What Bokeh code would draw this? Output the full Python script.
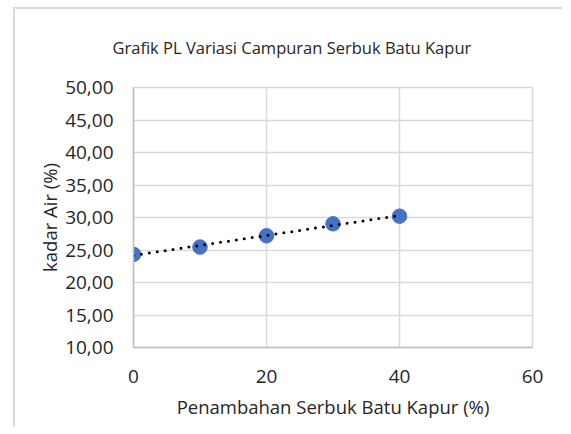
import numpy as np
from bokeh.plotting import figure
from bokeh.models import Range1d, FixedTicker
from bokeh.embed import file_html
from bokeh.resources import INLINE

# ---- data ----
x_values = [0, 10, 20, 30, 40]
kadar_air = [24.32, 25.45, 27.19, 29.03, 30.20]
x_ticks = [0, 20, 40, 60]
y_ticks = [10, 15, 20, 25, 30, 35, 40, 45, 50]
y_tick_labels = ["10,00", "15,00", "20,00", "25,00", "30,00", "35,00", "40,00", "45,00", "50,00"]
title_text = "Grafik PL Variasi Campuran Serbuk Batu Kapur"
x_label = "Penambahan Serbuk Batu Kapur (%)"
y_label = "kadar Air (%)"

FONT = "Open Sans"
TXT = "#262626"

p = figure(frame_width=399, frame_height=260,
           x_range=Range1d(0, 60), y_range=Range1d(10, 50),
           output_backend="svg", toolbar_location=None,
           min_border_left=118, min_border_right=30,
           min_border_top=78, min_border_bottom=79,
           background_fill_color="white", border_fill_color="white")

p.margin = (7, 0, 0, 13)
p.styles = {"border-left": "2px solid #d9d9d9", "border-top": "2px solid #d9d9d9"}

# title
p.title.text = title_text
p.title.align = "left"
p.title.offset = -21
p.title.standoff = 53
p.title.vertical_align = "top"
p.title.text_font = FONT
p.title.text_font_size = "16.5px"
p.title.text_font_style = "normal"
p.title.text_color = TXT

p.outline_line_color = "#d9d9d9"
p.outline_line_width = 1.5

# axes
p.xaxis.ticker = FixedTicker(ticks=x_ticks)
p.yaxis.ticker = FixedTicker(ticks=y_ticks)
p.yaxis.major_label_overrides = {float(t): lab for t, lab in zip(y_ticks, y_tick_labels)}
for ax in (p.xaxis[0], p.yaxis[0]):
    ax.major_tick_out = 0
    ax.major_tick_in = 0
    ax.minor_tick_out = 0
    ax.minor_tick_in = 0
    ax.axis_line_color = "#bfbfbf"
    ax.axis_line_width = 1.5
    ax.major_label_text_font = FONT
    ax.major_label_text_font_size = "19px"
    ax.major_label_text_color = TXT
    ax.axis_label_text_font = FONT
    ax.axis_label_text_font_size = "18.5px"
    ax.axis_label_text_font_style = "normal"
    ax.axis_label_text_color = TXT

p.xaxis.axis_label = x_label
p.yaxis.axis_label = y_label
p.xaxis.major_label_standoff = 22
p.yaxis.major_label_standoff = 20
p.xaxis.axis_label_standoff = 8
p.yaxis.axis_label_standoff = 0

p.xgrid.ticker = FixedTicker(ticks=x_ticks)
p.ygrid.ticker = FixedTicker(ticks=y_ticks)
for g in (p.xgrid[0], p.ygrid[0]):
    g.grid_line_color = "#d9d9d9"
    g.grid_line_width = 1.5

# data points
p.scatter(x_values, kadar_air, size=14.5, marker="circle",
          fill_color="#4472C4", line_color="#4472C4")

# linear trendline (least squares from the data)
slope, intercept = np.polyfit(x_values, kadar_air, 1)
tx = [min(x_values), max(x_values)]
ty = [slope * v + intercept for v in tx]
p.line(tx, ty, line_color="black", line_width=3, line_dash="0 8", line_cap="round")

open("out.html", "w").write(file_html(p, INLINE))
